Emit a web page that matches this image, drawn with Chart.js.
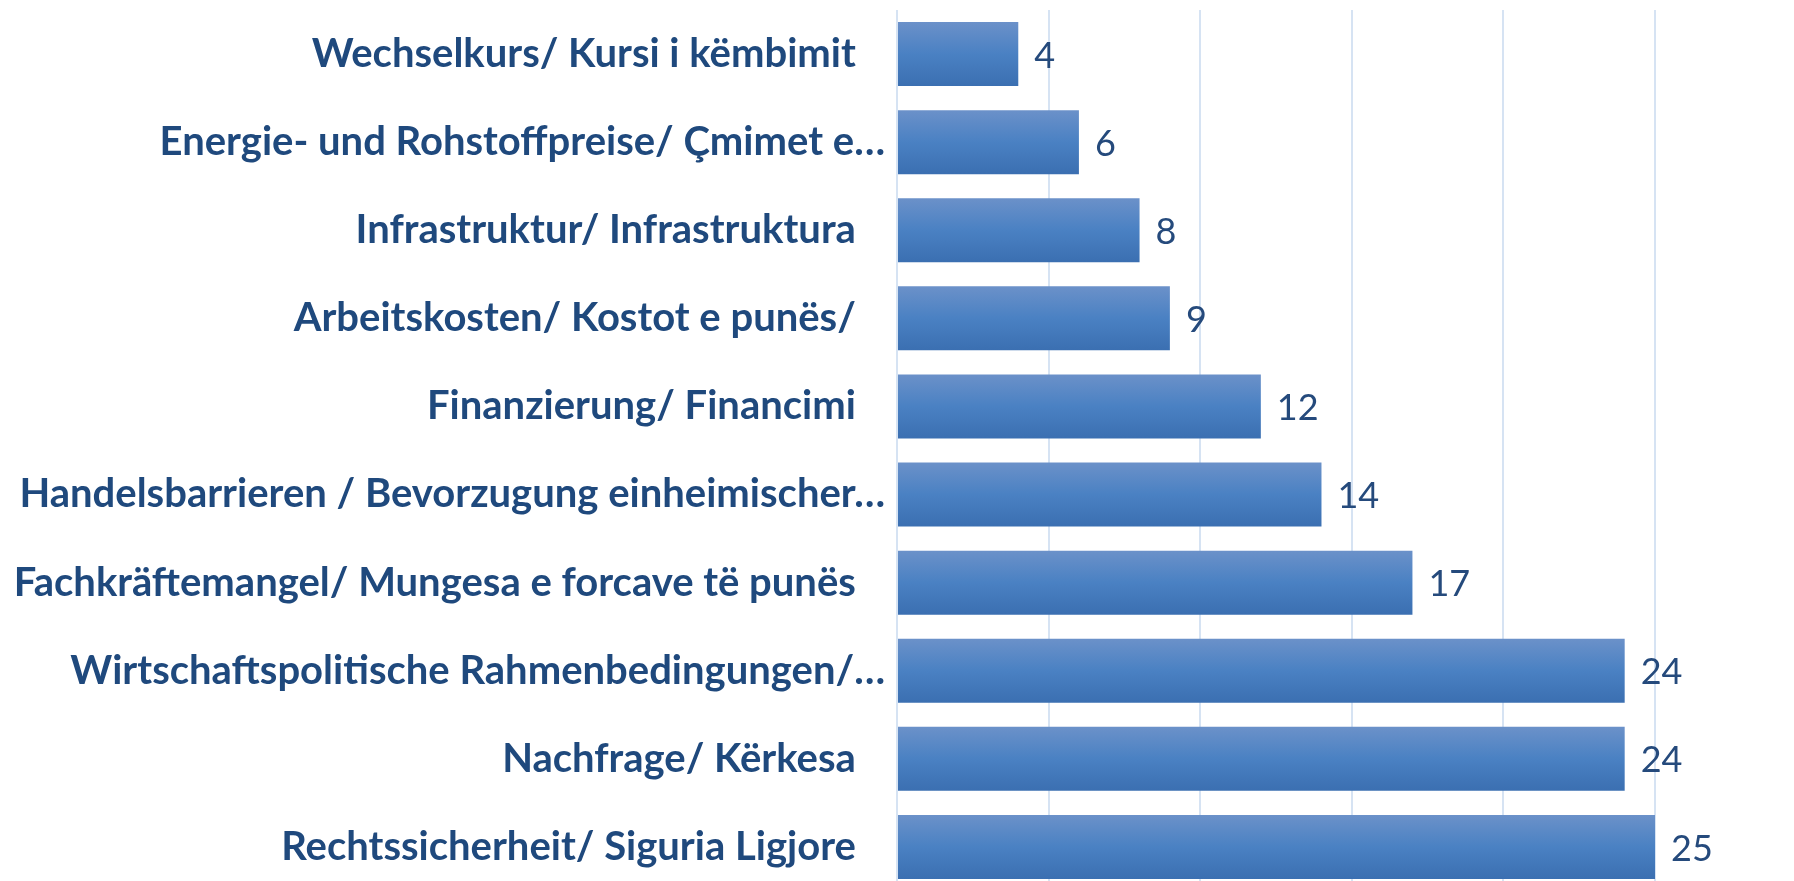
<!DOCTYPE html>
<html>
<head>
<meta charset="utf-8">
<script src="https://cdn.jsdelivr.net/npm/chart.js@4.4.0/dist/chart.umd.min.js"></script>
<style>
  html, body { margin: 0; padding: 0; background: #fff; overflow: hidden; }
</style>
</head>
<body>
<canvas id="problems-chart" width="1794" height="891"></canvas>
<script>
// categories, top to bottom (trailing spaces kept like in the original labels)
const categories = [
  "Wechselkurs/ Kursi i këmbimit\u00a0\u00a0\u00a0",
  "Energie- und Rohstoffpreise/ Çmimet e…",
  "Infrastruktur/ Infrastruktura\u00a0\u00a0\u00a0",
  "Arbeitskosten/ Kostot e punës/\u00a0\u00a0\u00a0",
  "Finanzierung/ Financimi\u00a0\u00a0\u00a0",
  "Handelsbarrieren / Bevorzugung einheimischer…",
  "Fachkräftemangel/ Mungesa e forcave të punës\u00a0\u00a0\u00a0",
  "Wirtschaftspolitische Rahmenbedingungen/…",
  "Nachfrage/ Kërkesa\u00a0\u00a0\u00a0",
  "Rechtssicherheit/ Siguria Ligjore\u00a0\u00a0\u00a0"
];
const values = [4, 6, 8, 9, 12, 14, 17, 24, 24, 25];
const axisMin = 0;
const axisMax = 25;
const axisStep = 5;

const textColor = '#1F497D';
const barPct = 0.727;

// vertical gradient for each bar, like the Office style fill
const barFill = (ctx) => {
  const chart = ctx.chart;
  const y = chart.scales.y;
  if (!y || !chart.chartArea) return '#4a7ebf';
  const c = y.getPixelForValue(ctx.dataIndex);
  const half = (y.height / categories.length) * barPct / 2;
  const g = chart.ctx.createLinearGradient(0, c - half, 0, c + half);
  g.addColorStop(0, '#6b91c9');
  g.addColorStop(0.5, '#4a81c3');
  g.addColorStop(1, '#3b6fb1');
  return g;
};

// value labels next to the bars
const valueLabels = {
  id: 'valueLabels',
  afterDatasetsDraw(chart) {
    const ctx = chart.ctx;
    const meta = chart.getDatasetMeta(0);
    ctx.save();
    ctx.font = '36px Lato';
    ctx.fillStyle = '#254a7c';
    ctx.textAlign = 'left';
    ctx.textBaseline = 'middle';
    meta.data.forEach((bar, i) => {
      ctx.fillText(String(values[i]), bar.x + 16, bar.y + 2);
    });
    ctx.restore();
  }
};

const ctx = document.getElementById('problems-chart').getContext('2d');
new Chart(ctx, {
  type: 'bar',
  data: {
    labels: categories,
    datasets: [{
      data: values,
      backgroundColor: barFill,
      borderWidth: 0,
      barPercentage: barPct,
      categoryPercentage: 1
    }]
  },
  options: {
    indexAxis: 'y',
    responsive: false,
    animation: false,
    layout: { padding: { top: 10, right: 139, bottom: 0, left: 0 } },
    plugins: {
      legend: { display: false },
      tooltip: { enabled: false }
    },
    scales: {
      x: {
        min: axisMin,
        max: axisMax,
        ticks: { display: false, stepSize: axisStep },
        grid: { color: '#d6e3f3', lineWidth: 2, drawTicks: false },
        border: { display: false },
        afterFit(scale) { scale.height = 0; }
      },
      y: {
        grid: { display: false },
        border: { display: false },
        ticks: {
          color: textColor,
          padding: 4,
          font: { family: 'Lato', size: 40, weight: 'bold' }
        },
        afterFit(scale) {
          scale.width = 897;
          scale.paddingTop = 0;
          scale.paddingBottom = 0;
        }
      }
    }
  },
  plugins: [valueLabels]
});
</script>
</body>
</html>
